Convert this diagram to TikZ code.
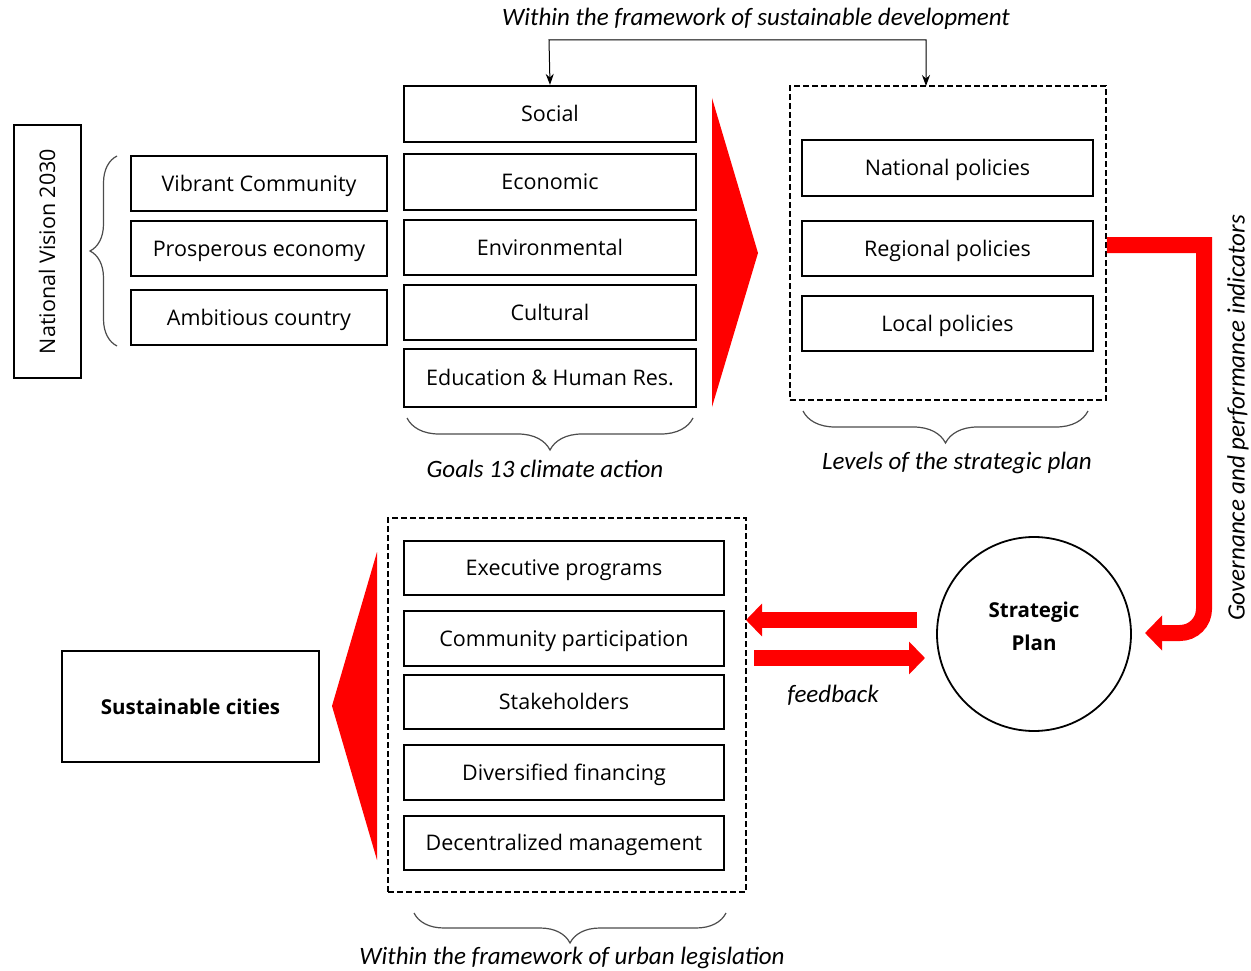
\documentclass[tikz,border=0pt]{standalone}
\usepackage{fontspec}
\setmainfont{Open Sans}
\newfontfamily\labfont{Carlito}
\usetikzlibrary{arrows.meta,decorations.pathreplacing}
\begin{document}
\begin{tikzpicture}[x=1pt,y=-1pt,
  box/.style={draw, line width=2.2pt, inner sep=0pt, text height=15.4pt, text depth=0pt, font=\fontsize{21.5}{26}\selectfont},
  dbox/.style={draw, line width=1.8pt, dash pattern=on 6pt off 3pt, inner sep=0pt},
  lab/.style={font=\labfont\itshape\fontsize{25}{29}\selectfont, inner sep=0pt},
  brc/.style={draw=black!70, line width=1.2pt, decorate, decoration={brace, amplitude=#1}},
  brcm/.style={draw=black!70, line width=1.2pt, decorate, decoration={brace, mirror, amplitude=#1}},
  redarrow/.style={draw=red, line width=16pt, -{Triangle[length=17pt,width=34pt]}},
  redtri/.style={fill=red, draw=none},
  conn/.style={draw, line width=1pt, {Stealth[length=11pt,width=8pt]}-{Stealth[length=11pt,width=8pt]}},
  boldtxt/.style={font=\bfseries\fontsize{20.5}{33}\selectfont, align=center}
]
\useasboundingbox (0,0) rectangle (1251,971);

% National vision
\node[box, rotate=90, minimum width=253pt, minimum height=67pt] (nv) at (47.5,251.5) {National Vision 2030};

% left boxes
\node[box, minimum width=256pt, minimum height=55pt] (vib) at (259,183.5) {Vibrant Community};
\node[box, minimum width=256pt, minimum height=55pt] (pro) at (259,248.5) {Prosperous economy};
\node[box, minimum width=256pt, minimum height=55pt] (amb) at (259,317.5) {Ambitious country};

% middle boxes
\node[box, minimum width=292pt, minimum height=56pt] (soc) at (550,114) {Social};
\node[box, minimum width=292pt, minimum height=56pt] (eco) at (550,182) {Economic};
\node[box, minimum width=292pt, minimum height=55pt] (env) at (550,247.5) {Environmental};
\node[box, minimum width=292pt, minimum height=55pt] (cul) at (550,312.5) {Cultural};
\node[box, minimum width=292pt, minimum height=58pt] (edu) at (550,378) {Education \& Human Res.};

% policies
\node[dbox, minimum width=316pt, minimum height=314pt] (lev) at (948,243) {};
\node[box, minimum width=291pt, minimum height=56pt] (nat) at (947.5,168) {National policies};
\node[box, minimum width=291pt, minimum height=55pt] (reg) at (947.5,248.5) {Regional policies};
\node[box, minimum width=291pt, minimum height=55pt] (loc) at (947.5,323.5) {Local policies};

% bottom group
\node[dbox, minimum width=358pt, minimum height=374pt] (leg) at (567,705) {};
\node[box, minimum width=320pt, minimum height=54pt] (exe) at (564,568) {Executive programs};
\node[box, minimum width=320pt, minimum height=55pt] (com) at (564,638.5) {Community participation};
\node[box, minimum width=320pt, minimum height=54pt] (sta) at (564,702) {Stakeholders};
\node[box, minimum width=320pt, minimum height=55pt] (div) at (564,772.5) {Diversified financing};
\node[box, minimum width=320pt, minimum height=54pt] (dec) at (564,843) {Decentralized management};

\node[box, boldtxt, minimum width=257pt, minimum height=111pt] (sc) at (190.5,706.5) {Sustainable cities};
\node[draw, circle, line width=1.8pt, minimum size=194pt] (sp) at (1034,634) {};
\node[boldtxt] (spt) at (1034,626) {Strategic\\Plan};

% red triangles
\path[redtri] (712,98) -- (758,253) -- (712,407) -- cycle;
\path[redtri] (377,552) -- (332,706) -- (377,860) -- cycle;

% top connector
\coordinate (lt) at (926,86);
\draw[conn] (soc.north) -- (549,40) -- (926,40) -- (lt);
\node[lab] (wsd) at (756,19) {Within the framework of sustainable development};

% braces
\draw[brc=27pt] (117,346) -- (117,156);
\draw[brcm=32pt] (407,418) -- (693,418);
\draw[brcm=32pt] (803,411) -- (1088,411);
\draw[brcm=30pt] (414,913) -- (726,913);

\node[lab] (goals) at (545,469) {Goals 13 climate action};
\node[lab] (levels) at (957,463) {Levels of the strategic plan};
\node[lab] (wul) at (572,958) {Within the framework of urban legislation};

% red L arrow
\coordinate (gtip) at (1145,633);
\draw[redarrow] (lev.east |- 0,245) -- (1204,245) -- (1204,300) [rounded corners=24pt] -- (1204,633) -- (gtip);
\node[lab, rotate=90] (gov) at (1238,418) {Governance and performance indicators};

% feedback arrows
\coordinate (fa1) at (917,620);
\coordinate (fa2) at (746,620);
\coordinate (fb1) at (754,658);
\coordinate (fb2) at (925,658);
\draw[redarrow, -{Triangle[length=16pt,width=32pt]}] (fa1) -- (fa2);
\draw[redarrow, -{Triangle[length=16pt,width=32pt]}] (fb1) -- (fb2);
\node[lab] (fb) at (833,695) {feedback};
\end{tikzpicture}
\end{document}
